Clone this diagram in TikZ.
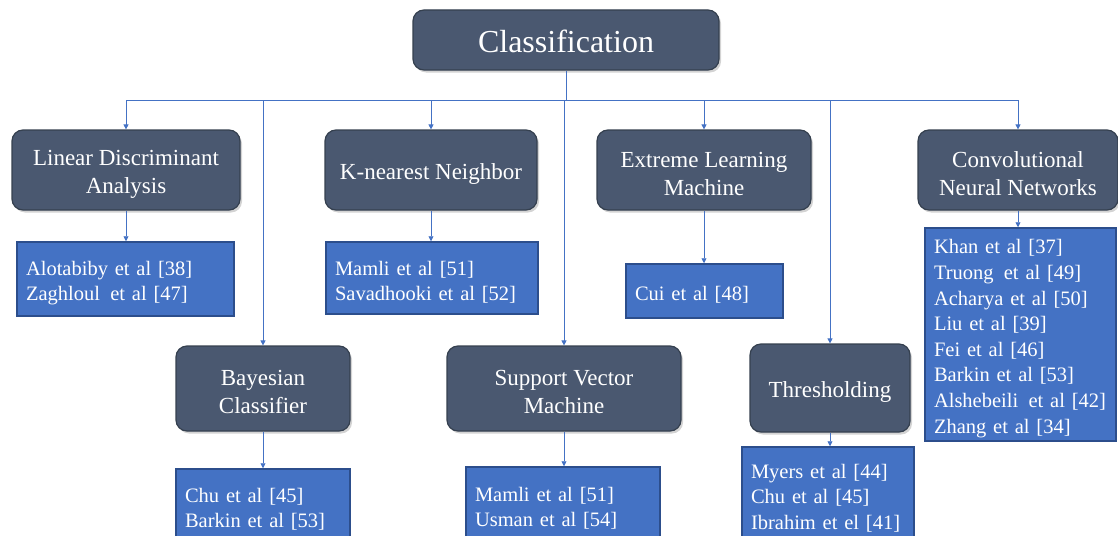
\documentclass[tikz,border=0pt]{standalone}
\usepackage{fontspec}
\setmainfont{Liberation Serif}
\usetikzlibrary{arrows.meta,shadows}
\definecolor{slate}{HTML}{4A5870}
\definecolor{slateedge}{HTML}{35404F}
\definecolor{refblue}{HTML}{4472C4}
\definecolor{refedge}{HTML}{2C4E8C}
\definecolor{linkblue}{HTML}{4472C4}
% strut that lowers the first line a little
\newcommand{\lowerstrut}[1]{\rule{0pt}{#1}}
\tikzset{
  method/.style={draw=slateedge, line width=1.2pt, fill=slate, rounded corners=11pt,
    text=white, align=center, font=\fontsize{23}{28}\selectfont, inner sep=0pt,
    drop shadow={shadow xshift=2pt, shadow yshift=-2.5pt, opacity=0.35}},
  refs/.style={draw=refedge, line width=1.5pt, fill=refblue, text=white, align=left,
    font=\fontsize{20.5}{25.6}\selectfont, inner xsep=9pt, inner ysep=0pt,
    execute at begin node={\lowerstrut{22.5pt}}},
  link/.style={draw=linkblue, line width=0.8pt},
  arr/.style={link, -{Triangle[length=5pt,width=5pt]}}
}
\begin{document}
\begin{tikzpicture}[x=1pt,y=-1pt]
\useasboundingbox (0,0) rectangle (1118,535);
\clip (0,0) rectangle (1118,535);

% root
\node[method, minimum width=306pt, minimum height=60pt, font=\fontsize{32}{36}\selectfont] (cls) at (566,40) {\lowerstrut{26pt}Classification};

% first row of methods
\node[method, minimum width=228pt, minimum height=80pt] (lda) at (126,170) {\lowerstrut{24pt}Linear Discriminant\\Analysis};
\node[method, minimum width=212pt, minimum height=80pt] (knn) at (431,170) {\lowerstrut{24pt}K-nearest Neighbor};
\node[method, minimum width=214pt, minimum height=80pt] (elm) at (704,170) {\lowerstrut{24pt}Extreme Learning\\Machine};
\node[method, minimum width=200pt, minimum height=80pt] (cnn) at (1018,170) {\lowerstrut{24pt}Convolutional\\Neural Networks};

% second row of methods
\node[method, minimum width=174pt, minimum height=85pt] (bay) at (263,388.5) {\lowerstrut{23pt}Bayesian\\Classifier};
\node[method, minimum width=234pt, minimum height=85pt] (svm) at (564,388.5) {\lowerstrut{23pt}Support Vector\\Machine};
\node[method, minimum width=160pt, minimum height=88pt] (thr) at (830,388) {\lowerstrut{24pt}Thresholding};

% reference lists
\node[refs, text width=199pt, minimum height=74pt] (lda-ref) at (125.5,279) {Alotabiby et al [38]\\Zaghloul\, et al [47]};
\node[refs, text width=194pt, minimum height=72pt] (knn-ref) at (432,278) {Mamli et al [51]\\Savadhooki et al [52]};
\node[refs, text width=139pt, minimum height=54pt] (elm-ref) at (704.5,291) {Cui et al [48]};
\node[refs, text width=173pt, minimum height=213pt] (cnn-ref) at (1020.5,334.5) {Khan et al [37]\\Truong\, et al [49]\\Acharya et al [50]\\Liu et al [39]\\Fei et al [46]\\Barkin et al [53]\\Alshebeili\, et al [42]\\Zhang et al [34]};
\node[refs, text width=156pt, minimum height=72pt] (bay-ref) at (263,505) {Chu et al [45]\\Barkin et al [53]};
\node[refs, text width=176pt, minimum height=74pt] (svm-ref) at (563,504) {Mamli et al [51]\\Usman et al [54]};
\node[refs, text width=154pt, minimum height=94pt] (thr-ref) at (828,494) {Myers et al [44]\\Chu et al [45]\\Ibrahim et el [41]};

% bus below the root
\coordinate (bus) at (cls.south |- 0,100);
\draw[link] (cls.south) -- (bus);
\foreach \m in {lda,knn,elm,cnn,bay,svm,thr}
  \draw[arr] (bus) -| (\m.north);

% method to its references
\foreach \m in {lda,knn,elm,cnn,bay,svm,thr}
  \draw[arr] (\m.south) -- (\m.south |- \m-ref.north);
\end{tikzpicture}
\end{document}
